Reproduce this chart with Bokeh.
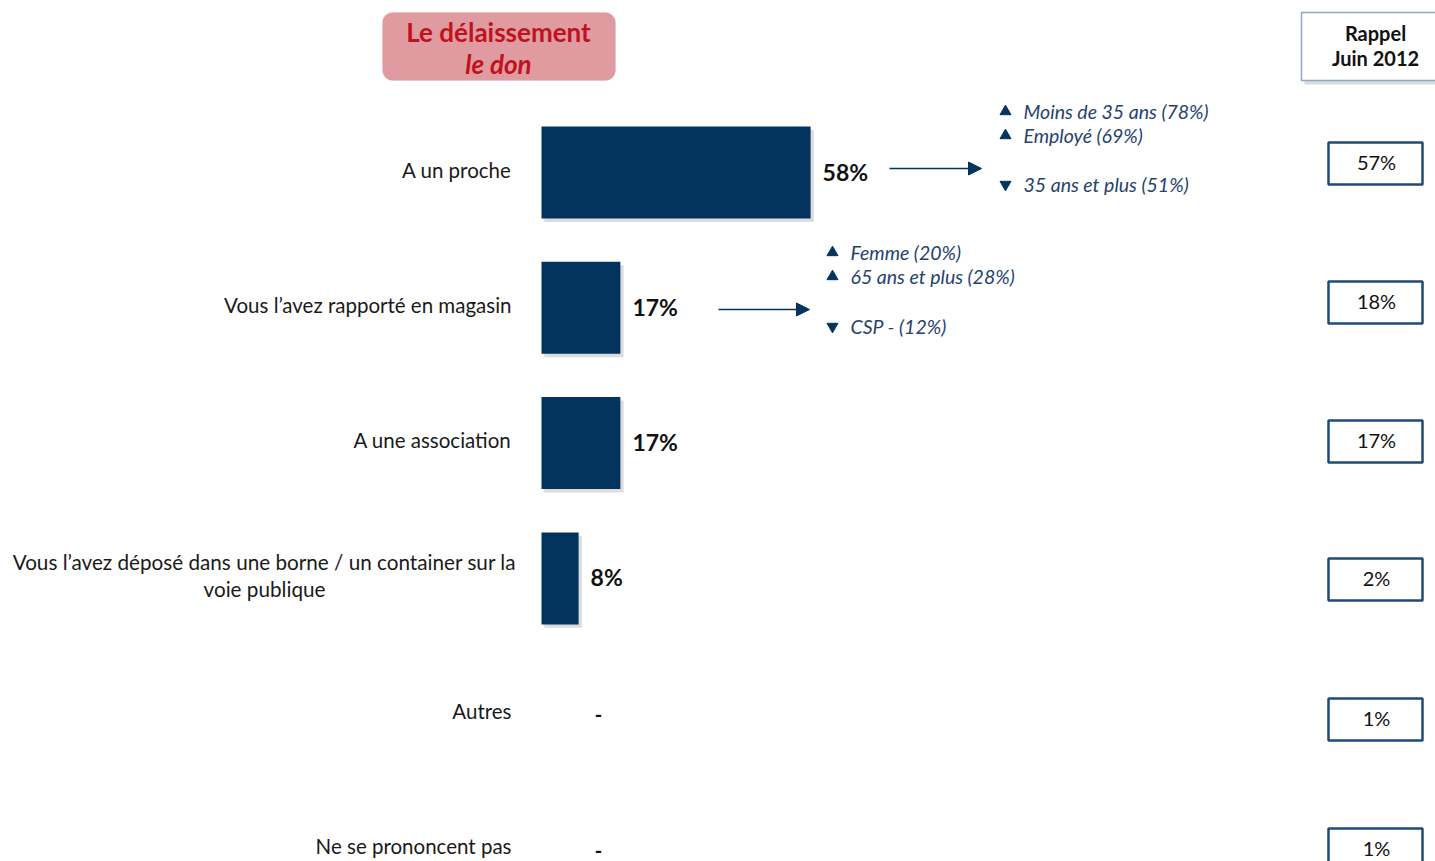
from bokeh.plotting import figure
from bokeh.models import Range1d, Arrow, NormalHead, BoxAnnotation
from bokeh.core.properties import value
from bokeh.embed import file_html
from bokeh.resources import INLINE

# ---------------- data ----------------
categories = [
    "A un proche",
    "Vous l’avez rapporté en magasin",
    "A une association",
    "Vous l’avez déposé dans une borne / un container sur la\nvoie publique",
    "Autres",
    "Ne se prononcent pas",
]
values = [58, 17, 17, 8, None, None]
rappel_values = [57, 18, 17, 2, 1, 1]
title_line1 = "Le délaissement"
title_line2 = "le don"
rappel_title = "Rappel\nJuin 2012"
annot0_up = ["Moins de 35 ans (78%)", "Employé (69%)"]
annot0_down = ["35 ans et plus (51%)"]
annot1_up = ["Femme (20%)", "65 ans et plus (28%)"]
annot1_down = ["CSP - (12%)"]

# ---------------- layout ----------------
W, H = 1435, 861
OFF = 0
BAR_X0 = 541.0
PX_PER_PCT = 4.64
ROW0 = 172.0
ROW_STEP = 135.3

FONT = value("Lato")
NAVY = "#03335f"
ANN = "#25426f"
BOXLINE = "#1f4a7a"

p = figure(width=W, height=H, output_backend="svg", toolbar_location=None,
           x_range=Range1d(OFF, OFF + W), y_range=Range1d(OFF + H, OFF),
           min_border=0, outline_line_color=None)
p.axis.visible = False
p.xgrid.visible = False
p.ygrid.visible = False
p.extra_x_ranges = {"val": Range1d((OFF - BAR_X0) / PX_PER_PCT, (OFF + W - BAR_X0) / PX_PER_PCT)}
p.extra_y_ranges = {"row": Range1d((OFF + H - ROW0) / ROW_STEP, (OFF - ROW0) / ROW_STEP)}

idx = list(range(len(categories)))
bar_idx = [i for i, v in zip(idx, values) if v is not None]
bar_vals = [v for v in values if v is not None]
nil_idx = [i for i, v in zip(idx, values) if v is None]

# bar shadows + bars
p.hbar(y=[i + 0.025 for i in bar_idx], left=0.6, right=[v + 0.7 for v in bar_vals], height=0.68,
       fill_color="#9a9a9a", fill_alpha=0.35, line_color=None,
       x_range_name="val", y_range_name="row")
p.hbar(y=bar_idx, left=0, right=bar_vals, height=0.68, fill_color=NAVY, line_color=None,
       x_range_name="val", y_range_name="row")

# value labels
p.text(x=bar_vals, y=bar_idx, text=[f"{v}%" for v in bar_vals], x_offset=12, y_offset=-1,
       text_font=FONT, text_font_style="bold", text_font_size="23px", text_color="#111111",
       text_baseline="middle", text_align="left", x_range_name="val", y_range_name="row")
p.text(x=[0] * len(nil_idx), y=nil_idx, text=["-"] * len(nil_idx), x_offset=57, y_offset=1,
       text_font=FONT, text_font_style="bold", text_font_size="20px", text_color="#111111",
       text_baseline="middle", text_align="center", x_range_name="val", y_range_name="row")

# category labels
single = [i for i in idx if "\n" not in categories[i]]
multi = [i for i in idx if "\n" in categories[i]]
p.text(x=[511] * len(single), y=single, text=[categories[i] for i in single], y_offset=-3,
       text_font=FONT, text_font_size="20.5px", text_color="#1a1a1a",
       text_baseline="middle", text_align="right", y_range_name="row")
p.text(x=[264] * len(multi), y=multi, text=[categories[i] for i in multi], y_offset=-3,
       text_font=FONT, text_font_size="20.7px", text_color="#1a1a1a", text_line_height=1.1,
       text_baseline="middle", text_align="center", y_range_name="row")

# title box
p.add_layout(BoxAnnotation(left=382, right=615, top=12, bottom=80, fill_color="#e09ba0",
                           fill_alpha=1.0, line_color="#e6adb1", line_width=1, border_radius=10,
                           level="underlay"))
p.text(x=[498], y=[31], text=[title_line1], text_font=FONT, text_font_style="bold",
       text_font_size="26px", text_color="#c0121e", text_align="center", text_baseline="middle")
p.text(x=[498], y=[63], text=[title_line2], text_font=FONT, text_font_style="bold italic",
       text_font_size="26px", text_color="#c0121e", text_align="center", text_baseline="middle")

# annotations
def annot(ax0, ax1, ay, tx, ups, downs, up_y, down_y):
    p.add_layout(Arrow(end=NormalHead(size=13, fill_color=NAVY, line_color=NAVY),
                       x_start=ax0, y_start=ay, x_end=ax1, y_end=ay,
                       line_color=NAVY, line_width=1.5))
    p.scatter(x=[tx - 18] * len(ups), y=up_y, marker="triangle", size=11,
              fill_color=NAVY, line_color=NAVY)
    p.scatter(x=[tx - 18] * len(downs), y=down_y, marker="inverted_triangle", size=11,
              fill_color=NAVY, line_color=NAVY)
    p.text(x=[tx] * (len(ups) + len(downs)), y=up_y + down_y, text=ups + downs,
           text_font=FONT, text_font_style="italic", text_font_size="19.5px", text_color=ANN,
           text_baseline="middle", text_align="left")

annot(889, 981, 168, 1023, annot0_up, annot0_down, [111, 135], [184])
annot(718, 809, 309, 850, annot1_up, annot1_down, [252, 276], [326])

# rappel header
p.quad(left=[1304], right=[1445], top=[15], bottom=[84], fill_color="#999999", fill_alpha=0.35,
       line_color=None)
p.quad(left=[1301], right=[1445], top=[12], bottom=[80], fill_color="white",
       line_color="#8fa8c8", line_width=1.5)
p.text(x=[1375], y=[45], text=[rappel_title], text_font=FONT, text_font_style="bold",
       text_font_size="20px", text_color="#111111", text_line_height=1.05,
       text_align="center", text_baseline="middle")

# rappel values
RAPPEL_Y = [163, 302, 441, 579, 719, 849]
p.quad(left=[1328] * 6, right=[1422] * 6, top=[y - 21 for y in RAPPEL_Y],
       bottom=[y + 21 for y in RAPPEL_Y], fill_color="white", line_color=BOXLINE, line_width=2.5)
p.text(x=[1376] * 6, y=[y - 2 for y in RAPPEL_Y], text=[f"{v}%" for v in rappel_values],
       text_font=FONT, text_font_size="20px", text_color="#111111", text_align="center",
       text_baseline="middle")

open("out.html", "w").write(file_html(p, INLINE))
